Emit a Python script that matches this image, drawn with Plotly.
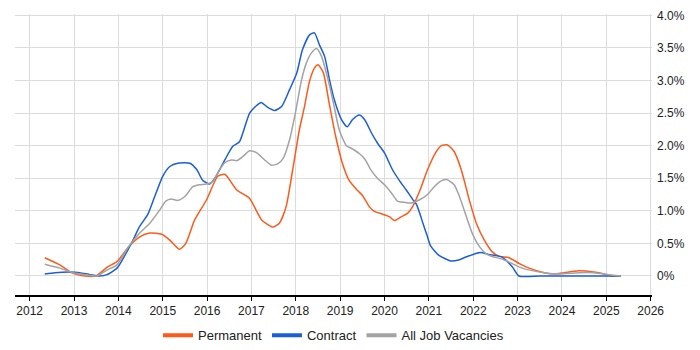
import plotly.graph_objects as go

perm_x = [2012.34, 2012.68, 2012.98, 2013.25, 2013.49, 2013.76, 2013.97, 2014.21, 2014.48, 2014.71,
          2014.98, 2015.16, 2015.38, 2015.52, 2015.72, 2015.99, 2016.24, 2016.40, 2016.67, 2016.96,
          2017.12, 2017.23, 2017.48, 2017.63, 2017.78, 2017.93, 2018.08, 2018.19, 2018.31, 2018.42,
          2018.50, 2018.62, 2018.75, 2018.90, 2019.05, 2019.20, 2019.38, 2019.50, 2019.66, 2019.77,
          2019.95, 2020.11, 2020.22, 2020.38, 2020.52, 2020.63, 2020.79, 2020.97, 2021.15, 2021.28,
          2021.42, 2021.57, 2021.73, 2021.91, 2022.07, 2022.25, 2022.43, 2022.59, 2022.81, 2023.04,
          2023.26, 2023.60, 2023.82, 2024.05, 2024.38, 2024.72, 2024.95, 2025.10, 2025.33]
perm_y = [0.28, 0.17, 0.04, 0.00, 0.00, 0.14, 0.22, 0.43, 0.60, 0.66,
          0.64, 0.55, 0.41, 0.50, 0.86, 1.17, 1.53, 1.56, 1.32, 1.19,
          0.99, 0.86, 0.75, 0.81, 1.06, 1.63, 2.24, 2.58, 2.99, 3.19,
          3.24, 3.12, 2.66, 2.14, 1.73, 1.47, 1.32, 1.24, 1.06, 0.99,
          0.95, 0.91, 0.85, 0.91, 0.96, 1.06, 1.30, 1.63, 1.89, 2.00,
          2.01, 1.91, 1.63, 1.17, 0.81, 0.55, 0.37, 0.30, 0.28, 0.19,
          0.12, 0.05, 0.03, 0.05, 0.08, 0.06, 0.03, 0.00, 0.00]

cont_x = [2012.34, 2012.57, 2012.91, 2013.13, 2013.36, 2013.58, 2013.74, 2013.97, 2014.15, 2014.33,
          2014.48, 2014.66, 2014.82, 2015.00, 2015.16, 2015.34, 2015.61, 2015.77, 2015.90, 2016.06,
          2016.22, 2016.40, 2016.58, 2016.73, 2016.96, 2017.14, 2017.23, 2017.36, 2017.52, 2017.68,
          2017.86, 2018.02, 2018.15, 2018.31, 2018.42, 2018.53, 2018.65, 2018.76, 2018.87, 2019.03,
          2019.16, 2019.28, 2019.43, 2019.55, 2019.71, 2019.84, 2020.00, 2020.18, 2020.34, 2020.49,
          2020.63, 2020.72, 2020.80, 2020.87, 2020.96, 2021.04, 2021.22, 2021.50, 2021.69, 2021.83,
          2022.16, 2022.35, 2022.65, 2022.88, 2023.03, 2023.50, 2024.00, 2024.50, 2025.00, 2025.33]
cont_y = [0.03, 0.05, 0.06, 0.05, 0.02, 0.00, 0.02, 0.12, 0.32, 0.55,
          0.76, 0.94, 1.22, 1.53, 1.68, 1.73, 1.73, 1.63, 1.47, 1.41,
          1.55, 1.78, 1.99, 2.06, 2.50, 2.63, 2.66, 2.59, 2.54, 2.60,
          2.86, 3.11, 3.47, 3.70, 3.73, 3.55, 3.37, 3.01, 2.70, 2.40,
          2.29, 2.40, 2.47, 2.40, 2.19, 2.04, 1.89, 1.63, 1.46, 1.32,
          1.18, 1.10, 0.95, 0.80, 0.62, 0.46, 0.32, 0.23, 0.25, 0.29,
          0.36, 0.33, 0.29, 0.14, 0.00, 0.00, 0.00, 0.00, 0.00, 0.00]

all_x = [2012.34, 2012.68, 2012.98, 2013.25, 2013.52, 2013.74, 2013.97, 2014.21, 2014.48, 2014.71,
         2014.93, 2015.07, 2015.20, 2015.34, 2015.50, 2015.68, 2015.83, 2015.99, 2016.13, 2016.28,
         2016.40, 2016.55, 2016.67, 2016.80, 2016.96, 2017.12, 2017.30, 2017.45, 2017.59, 2017.72,
         2017.86, 2017.99, 2018.13, 2018.24, 2018.35, 2018.47, 2018.58, 2018.71, 2018.85, 2018.98,
         2019.14, 2019.25, 2019.43, 2019.55, 2019.70, 2019.84, 2020.00, 2020.16, 2020.29, 2020.45,
         2020.61, 2020.79, 2020.97, 2021.12, 2021.28, 2021.40, 2021.57, 2021.69, 2021.84, 2021.98,
         2022.14, 2022.29, 2022.43, 2022.65, 2022.88, 2023.10, 2023.60, 2023.93, 2024.38, 2024.72,
         2025.06, 2025.33]
all_y = [0.18, 0.12, 0.05, 0.02, 0.00, 0.09, 0.17, 0.43, 0.66, 0.81,
         1.01, 1.15, 1.18, 1.16, 1.22, 1.37, 1.40, 1.41, 1.45, 1.63,
         1.74, 1.78, 1.77, 1.83, 1.92, 1.89, 1.78, 1.70, 1.72, 1.81,
         2.09, 2.50, 3.01, 3.27, 3.42, 3.49, 3.37, 3.06, 2.65, 2.24,
         2.00, 1.96, 1.88, 1.80, 1.62, 1.50, 1.40, 1.27, 1.15, 1.13,
         1.12, 1.17, 1.25, 1.37, 1.46, 1.48, 1.40, 1.22, 0.92, 0.65,
         0.45, 0.34, 0.30, 0.26, 0.19, 0.12, 0.05, 0.03, 0.05, 0.05,
         0.02, 0.00]

year_ticks = list(range(2012, 2027))
pct_ticks = [0, 0.5, 1.0, 1.5, 2.0, 2.5, 3.0, 3.5, 4.0]
pct_labels = ["0%", "0.5%", "1.0%", "1.5%", "2.0%", "2.5%", "3.0%", "3.5%", "4.0%"]

series = [
    ("Permanent", perm_x, perm_y, "#FF5A1A"),
    ("Contract", cont_x, cont_y, "#1A5FD9"),
    ("All Job Vacancies", all_x, all_y, "#A3A3A3"),
]

fig = go.Figure()
for name, xs, ys, col in series:
    fig.add_trace(go.Scatter(x=xs, y=ys, name=name, mode="lines", showlegend=False,
                             legendgroup=name,
                             line=dict(color=col, width=1.5, shape="spline", smoothing=0.6)))
# legend entries with thick swatches, as in the reference
for name, xs, ys, col in series:
    fig.add_trace(go.Scatter(x=[None], y=[None], name=name, mode="lines", legendgroup=name,
                             line=dict(color=col, width=4)))

fig.update_layout(
    width=700, height=350,
    margin=dict(l=15, r=48, t=14, b=55, autoexpand=False),
    paper_bgcolor="white", plot_bgcolor="white",
    font=dict(family="Liberation Sans, Arial, sans-serif", size=12, color="#222"),
    showlegend=True,
    legend=dict(orientation="h", x=0.5, xanchor="center", y=-0.143, yanchor="middle",
                font=dict(size=13, color="#222"), itemwidth=30),
)
fig.update_xaxes(range=[2011.67, 2026.03], tickvals=year_ticks, ticktext=[str(y) for y in year_ticks],
                 showgrid=True, gridcolor="#dcdcdc", gridwidth=1,
                 showline=True, linecolor="#000", linewidth=1.5,
                 ticks="outside", ticklen=4, tickcolor="#000", zeroline=False)
fig.update_yaxes(range=[-0.292, 4.02], side="right", tickvals=pct_ticks, ticktext=pct_labels,
                 showgrid=True, gridcolor="#dcdcdc", gridwidth=1, zeroline=False,
                 showline=False, ticks="", ticklabelstandoff=4)

fig.write_html("out.html", config={"displayModeBar": False},
               post_script="document.body.style.margin='0px';")
